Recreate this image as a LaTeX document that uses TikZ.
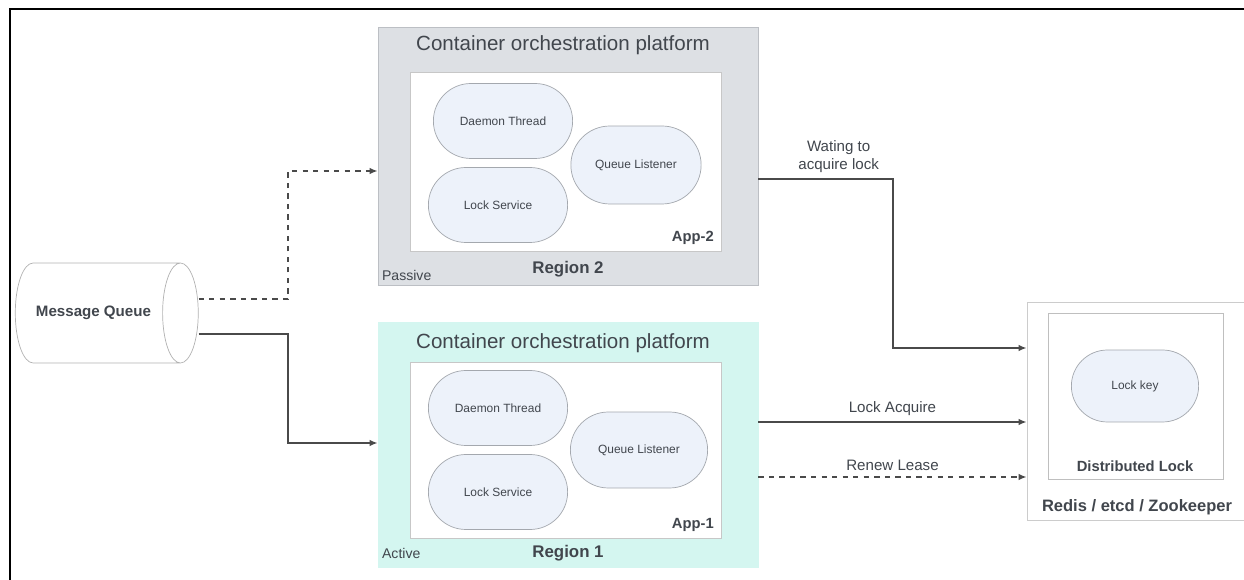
\documentclass[tikz,border=0pt]{standalone}
\usepackage{fontspec}
\setmainfont{Liberation Sans}
\usepackage{tikz}
\usetikzlibrary{arrows.meta}
\usetikzlibrary{positioning}
\usetikzlibrary{calc}
\usetikzlibrary{shapes.misc}
\usetikzlibrary{shapes.geometric}
\definecolor{txt}{HTML}{41464D}
\definecolor{passivebg}{HTML}{DDE0E4}
\definecolor{passiveln}{HTML}{BCBFC4}
\definecolor{activebg}{HTML}{D4F6F0}
\definecolor{compbg}{HTML}{EDF2FA}
\definecolor{compln}{HTML}{A4A8AE}
\definecolor{wire}{HTML}{4A4A4A}
\tikzset{>={Latex[length=1.6mm,width=1.3mm]}}
\newcommand\compwidth{3.02cm}
\newcommand\compheight{1.5cm}
\tikzset{
    region/.style = {draw=passiveln, minimum width=7.6cm, inner sep=0pt},
    app/.style = {draw=black!22, fill=white, minimum width=6.22cm, inner sep=0pt},
    comp/.style = {rounded rectangle, draw=compln, fill=compbg, minimum width=\compwidth, minimum height=\compheight, font=\fontsize{6.8}{8}\selectfont, text=txt},
    title/.style = {font=\fontsize{11.7}{14}\selectfont, text=txt},
    tag/.style = {font=\fontsize{8}{10}\selectfont, text=txt},
    boldtag/.style = {font=\fontsize{8.4}{10}\selectfont\bfseries, text=txt},
    flow/.style = {->, draw=wire, line width=1pt},
    flowlabel/.style = {font=\fontsize{8.6}{10.3}\selectfont, text=txt, align=center},
}

\begin{document}
\begin{tikzpicture}[x=0.02cm,y=-0.02cm]
    \clip (0,0) rectangle (1244,580);
    \draw[line width=1.2pt] (10,600) -- (10,9) -- (1260,9);

    % message queue
    \node[cylinder, draw=black!30, fill=white, minimum width=2cm, minimum height=3.66cm, aspect=1.4,
          font=\fontsize{8.6}{10}\selectfont\bfseries, text=txt] (mq) at (93.5,313) {Message Queue};

    % region 2 (passive)
    \node[region, fill=passivebg, minimum height=5.16cm] (reg2) at (568,156) {};
    \node[title] (t2) at (563,45) {Container orchestration platform};
    \node[app, minimum height=3.58cm] (app2) at (565.5,161.5) {};
    \node[comp] (daemon2) at (503,121) {Daemon Thread};
    \node[comp] (lock2) at (498,205) {Lock Service};
    \node[comp, minimum width=2.84cm, minimum height=1.56cm] (queue2) at (636,165) {Queue Listener};
    \node[boldtag, anchor=east] (app2tag) at (720,238) {App-2};
    \node[boldtag, font=\fontsize{9.6}{11}\selectfont\bfseries] (reg2tag) at (568,269) {Region 2};
    \node[tag, anchor=west, inner sep=1pt] (passive) at (380,275) {Passive};

    % region 1 (active)
    \node[region, draw=activebg, fill=activebg, minimum height=4.9cm] (reg1) at (568,444.5) {};
    \node[title] (t1) at (563,343) {Container orchestration platform};
    \node[app, minimum height=3.52cm] (app1) at (565.5,450) {};
    \node[comp] (daemon1) at (498,408) {Daemon Thread};
    \node[comp] (lock1) at (498,492) {Lock Service};
    \node[comp, minimum width=2.98cm, minimum height=1.52cm] (queue1) at (639,450) {Queue Listener};
    \node[boldtag, anchor=east] (app1tag) at (720,525) {App-1};
    \node[boldtag, font=\fontsize{9.6}{11}\selectfont\bfseries] (reg1tag) at (568,553) {Region 1};
    \node[tag, anchor=west, inner sep=1pt] (active) at (380,553) {Active};

    % lock store
    \node[draw=black!20, fill=white, minimum width=4.46cm, minimum height=4.36cm] (redis) at (1138.5,411) {};
    \node[draw=black!25, minimum width=3.5cm, minimum height=3.32cm] (dlock) at (1135.5,396) {};
    \node[comp, minimum width=2.78cm, minimum height=1.44cm] (key) at (1135,386) {Lock key};
    \node[boldtag] (dlocktag) at (1135,466) {Distributed Lock};
    \node[boldtag, font=\fontsize{9.4}{11}\selectfont\bfseries] (redistag) at (1137,507) {Redis / etcd / Zookeeper};

    % connectors
    \draw[flow, dashed] (mq.east |- 0,299) -- (288,299) |- (reg2.west |- 0,171);
    \draw[flow] (mq.east |- 0,334) -- (288,334) |- (reg1.west |- 0,443);
    \draw[flow] (reg2.east |- 0,179) -- node[flowlabel, above, xshift=0.26cm] {Wating to\\acquire lock} (893,179) |- (redis.west |- 0,348);
    \draw[flow] (reg1.east |- 0,422) -- node[flowlabel, above] {Lock Acquire} (redis.west |- 0,422);
    \draw[flow, dashed] (reg1.east |- 0,477) -- node[flowlabel, above] {Renew Lease} (redis.west |- 0,477);
\end{tikzpicture}
\end{document}
